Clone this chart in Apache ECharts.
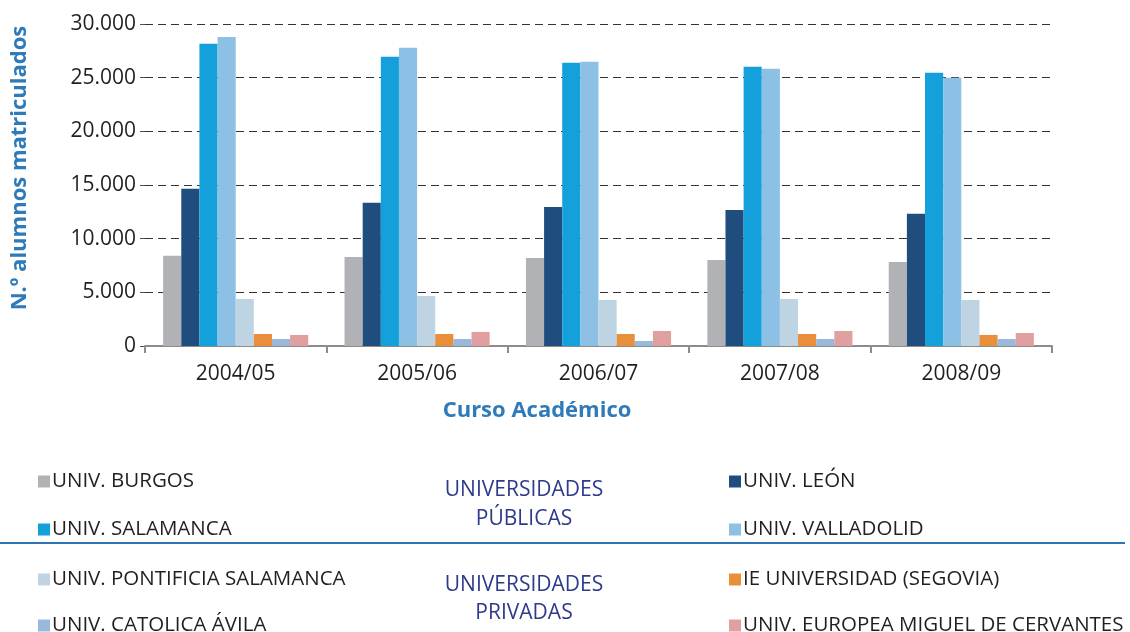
<!DOCTYPE html>
<html>
<head>
<meta charset="utf-8">
<script src="https://cdn.jsdelivr.net/npm/echarts@6/dist/echarts.min.js"></script>
<style>
  html, body { margin: 0; padding: 0; background: #fff; }
  #main { width: 1130px; height: 632px; }
</style>
</head>
<body>
<div id="main"></div>
<script>
// cursos académicos
var cursos = ['2004/05', '2005/06', '2006/07', '2007/08', '2008/09']
// universidades públicas
var burgos = [8400, 8300, 8210, 8020, 7830]
var leon = [14640, 13340, 12960, 12680, 12310]
var salamanca = [28160, 26950, 26390, 26020, 25460]
var valladolid = [28800, 27790, 26480, 25830, 24990]
// universidades privadas
var pontificia = [4380, 4660, 4290, 4380, 4290]
var ieSegovia = [1120, 1120, 1120, 1120, 1030]
var catolicaAvila = [650, 650, 470, 650, 650]
var europeaCervantes = [1030, 1310, 1400, 1400, 1210]

var nombres = ['UNIV. BURGOS', 'UNIV. LEÓN', 'UNIV. SALAMANCA', 'UNIV. VALLADOLID',
  'UNIV. PONTIFICIA SALAMANCA', 'IE UNIVERSIDAD (SEGOVIA)', 'UNIV. CATOLICA ÁVILA', 'UNIV. EUROPEA MIGUEL DE CERVANTES']
var valores = [burgos, leon, salamanca, valladolid, pontificia, ieSegovia, catolicaAvila, europeaCervantes]
var colores = ['#b1b2b6', '#1f4e7e', '#13a0db', '#8dc0e5', '#bfd4e2', '#e98e3b', '#9ab8dc', '#dfa09f']

var fuente = 'Open Sans'
var azul = '#2f7ab8'
var indigo = '#2e3a8c'
var texto = '#231f20'

function miles(v) {
  return String(v).replace(/\B(?=(\d{3})+(?!\d))/g, '.')
}

// una leyenda por elemento: dos columnas, filas fijas
var filas = [479, 479, 527, 527, 577, 577, 623, 623]
function leyenda(i) {
  return {
    left: i % 2 === 0 ? 33 : 724,
    top: filas[i] - 13,
    itemWidth: 12,
    itemHeight: 12,
    icon: 'rect',
    selectedMode: false,
    data: [nombres[i]],
    textStyle: { fontFamily: fuente, fontSize: 20.5, color: texto, padding: [0, 0, 0, -3] }
  }
}

function rotulo(t, y) {
  return {
    type: 'text', x: 524, y: y,
    style: { text: t, fontFamily: fuente, fontSize: 21, fill: indigo, align: 'center', verticalAlign: 'middle' }
  }
}

var chart = echarts.init(document.getElementById('main'))
var option = {
  animation: false,
  color: colores,
  grid: { left: 145, right: 78, top: 24, bottom: 286 },
  legend: nombres.map(function (n, i) { return leyenda(i) }),
  graphic: [
    {
      type: 'line',
      shape: { x1: 0, y1: 543, x2: 1125, y2: 543 },
      style: { stroke: '#2f74b0', lineWidth: 2 }
    },
    rotulo('UNIVERSIDADES', 490),
    rotulo('PÚBLICAS', 519),
    rotulo('UNIVERSIDADES', 585),
    rotulo('PRIVADAS', 613),
    {
      type: 'text', x: 20, y: 168, rotation: Math.PI / 2,
      style: {
        text: 'N.º alumnos matriculados', fontFamily: fuente, fontSize: 22, fontWeight: 'bold',
        fill: azul, align: 'center', verticalAlign: 'middle'
      }
    },
    {
      type: 'text', x: 537, y: 411,
      style: {
        text: 'Curso Académico', fontFamily: fuente, fontSize: 22, fontWeight: 'bold',
        fill: azul, align: 'center', verticalAlign: 'middle'
      }
    }
  ],
  xAxis: {
    type: 'category',
    data: cursos,
    axisLine: { lineStyle: { color: '#8c8c8c', width: 2 } },
    axisTick: { show: true, length: 7, lineStyle: { color: '#8c8c8c', width: 2 } },
    axisLabel: { fontFamily: fuente, fontSize: 21, color: texto, margin: 18 }
  },
  yAxis: {
    type: 'value',
    min: 0,
    max: 30000,
    interval: 5000,
    axisLine: { show: false },
    axisTick: { show: true, length: 5, lineStyle: { color: '#555' } },
    axisLabel: {
      fontFamily: fuente, fontSize: 21, color: texto, margin: 9,
      formatter: function (v) { return miles(v) }
    },
    splitLine: { lineStyle: { color: '#333', width: 1.2, type: [8, 5] } }
  },
  series: nombres.map(function (n, i) {
    return {
      name: n,
      type: 'bar',
      data: valores[i],
      barGap: '0%',
      barCategoryGap: '20%'
    }
  })
}
chart.setOption(option)
</script>
</body>
</html>
